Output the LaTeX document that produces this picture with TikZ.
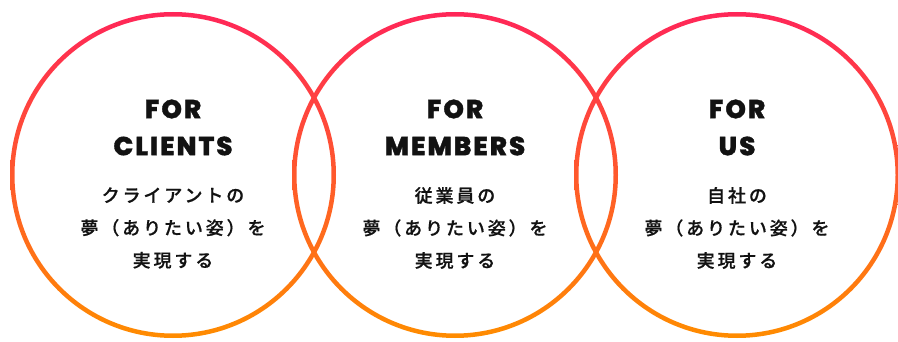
\documentclass[tikz,border=0pt]{standalone}
\usepackage{fontspec}
\setmainfont{Poppins}[BoldFont=Poppins ExtraBold, BoldFeatures={FakeBold=1.4}]
\newfontfamily\jpfont[LetterSpace=16, FakeBold=0.6]{Noto Sans CJK JP Medium}
\usepackage{tikz}
\definecolor{ringtop}{HTML}{FF2658}
\definecolor{ringbot}{HTML}{FF8C00}
\tikzset{
	ring/.style={top color=ringtop, bottom color=ringbot, even odd rule},
	title/.style={font=\fontsize{26}{37}\selectfont\bfseries\addfontfeatures{LetterSpace=8}, align=center, text=black!93},
	dream/.style={font=\jpfont\fontsize{18}{32.5}\selectfont, align=center, text=black!93},
}

\begin{document}
\begin{tikzpicture}[x=1pt, y=-1pt]
		\useasboundingbox (0,0) rectangle (898,342);
		\foreach \cx/\name/\who/\whose in {173/clients/CLIENTS/クライアントの, 455/members/MEMBERS/従業員の, 737/us/US/自社の}
		{
			\coordinate (\name) at (\cx,175);
			\path[ring] (\name) circle [radius=163pt] (\name) circle [radius=158.5pt];
			\node[title] (\name-title) at (\cx,127.5) {FOR\\\who};
			\node[dream] (\name-dream) at (\cx,228) {\whose\\夢（ありたい姿）を\\実現する};
		}
\end{tikzpicture}
\end{document}
